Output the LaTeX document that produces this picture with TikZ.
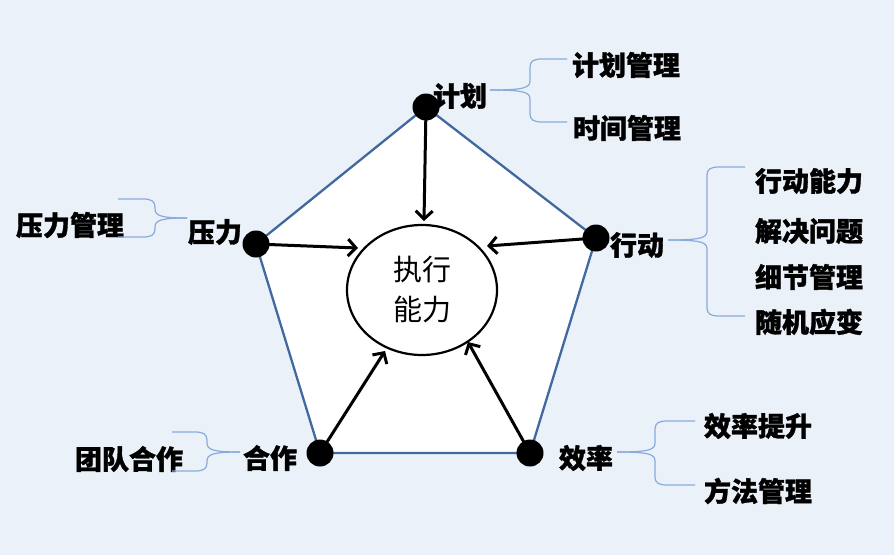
\documentclass[tikz,border=0pt]{standalone}
\usepackage{fontspec}
\newfontfamily\cjk{Noto Sans CJK SC}[BoldFeatures={FakeBold=1.2}]
\usetikzlibrary{arrows.meta,shapes.geometric}
\definecolor{bgc}{RGB}{235,241,249}
\definecolor{pentc}{RGB}{65,105,160}
\definecolor{brcc}{RGB}{135,172,220}
\newcommand{\bracer}[6]{%
\draw[brc] (#1,#2) .. controls (#3-7,#2) and (#3,#2-2) .. (#3,#2-9) -- (#3,#4+8) .. controls (#3,#4+2) and (#3+4,#4) .. (#3+12,#4) -- (#6,#4);
\draw[brc] (#1,#2) .. controls (#3-7,#2) and (#3,#2+2) .. (#3,#2+9) -- (#3,#5-8) .. controls (#3,#5-2) and (#3+4,#5) .. (#3+12,#5) -- (#6,#5);}
\newcommand{\bracel}[6]{%
\draw[brc] (#1,#2) .. controls (#3+7,#2) and (#3,#2-2) .. (#3,#2-9) -- (#3,#4+8) .. controls (#3,#4+2) and (#3-4,#4) .. (#3-12,#4) -- (#6,#4);
\draw[brc] (#1,#2) .. controls (#3+7,#2) and (#3,#2+2) .. (#3,#2+9) -- (#3,#5-8) .. controls (#3,#5-2) and (#3-4,#5) .. (#3-12,#5) -- (#6,#5);}
\begin{document}
\begin{tikzpicture}[x=1pt,y=-1pt,
  lab/.style={font=\cjk\bfseries\fontsize{27}{30}\selectfont, inner sep=0pt},
  dot/.style={circle, fill=black, minimum size=27pt, inner sep=0pt},
  arr/.style={line width=3pt, -{Straight Barb[length=8pt,width=17pt,line width=3pt]}},
  brc/.style={draw=brcc, line width=1.2pt},
  core/.style={ellipse, draw=black, line width=2.2pt, fill=white, minimum width=150pt, minimum height=130pt, inner sep=0pt, align=center, font=\cjk\fontsize{29}{40}\selectfont}
]
\fill[bgc] (0,0) rectangle (894,555);
\useasboundingbox (0,0) rectangle (894,555);
% pentagon vertices
\coordinate (pT) at (426,107);
\coordinate (pR) at (596,238);
\coordinate (pBR) at (530,453);
\coordinate (pBL) at (320,453);
\coordinate (pL) at (256,244);
\draw[draw=pentc, fill=white, line width=2.3pt, line join=round] (pT) -- (pR) -- (pBR) -- (pBL) -- (pL) -- cycle;
% core
\node[core] (core) at (422,290) {执行\\能力};
% dots
\node[dot] (dt) at (pT) {};
\node[dot] (dr) at (pR) {};
\node[dot] (dbr) at (pBR) {};
\node[dot] (dbl) at (pBL) {};
\node[dot] (dl) at (pL) {};
% arrow ends
\coordinate (aT) at (424,221);
\coordinate (aL) at (358,248);
\coordinate (aR) at (487,246);
\coordinate (aBL) at (385,351);
\coordinate (aBR) at (468,342);
\draw[arr] (dt.center) -- (aT);
\draw[arr] (dl.center) -- (aL);
\draw[arr] (dr.center) -- (aR);
\draw[arr] (dbl.center) -- (aBL);
\draw[arr] (dbr.center) -- (aBR);
% main labels
\node[lab] (jh) at (460,96) {计划};
\node[lab] (yl) at (215,232) {压力};
\node[lab] (xd) at (637,245) {行动};
\node[lab] (hz) at (270,458) {合作};
\node[lab] (xl) at (586,458) {效率};
% sub labels
\node[lab] (jh1) at (626,65) {计划管理};
\node[lab] (jh2) at (627,128) {时间管理};
\node[lab] (yl1) at (70,225) {压力管理};
\node[lab] (xd1) at (809,181) {行动能力};
\node[lab] (xd2) at (809,231) {解决问题};
\node[lab] (xd3) at (809,277) {细节管理};
\node[lab] (xd4) at (809,322) {随机应变};
\node[lab] (hz1) at (129,459) {团队合作};
\node[lab] (xl1) at (758,426) {效率提升};
\node[lab] (xl2) at (758,491) {方法管理};
% braces
\bracer{490}{90}{530}{59}{122}{567}
\bracel{187}{218}{155}{199}{237}{118}
\bracer{668}{240}{707}{167}{316}{745}
\bracel{240}{452}{207}{432}{471}{172}
\bracer{617}{452}{655}{421}{485}{695}
\end{tikzpicture}
\end{document}
